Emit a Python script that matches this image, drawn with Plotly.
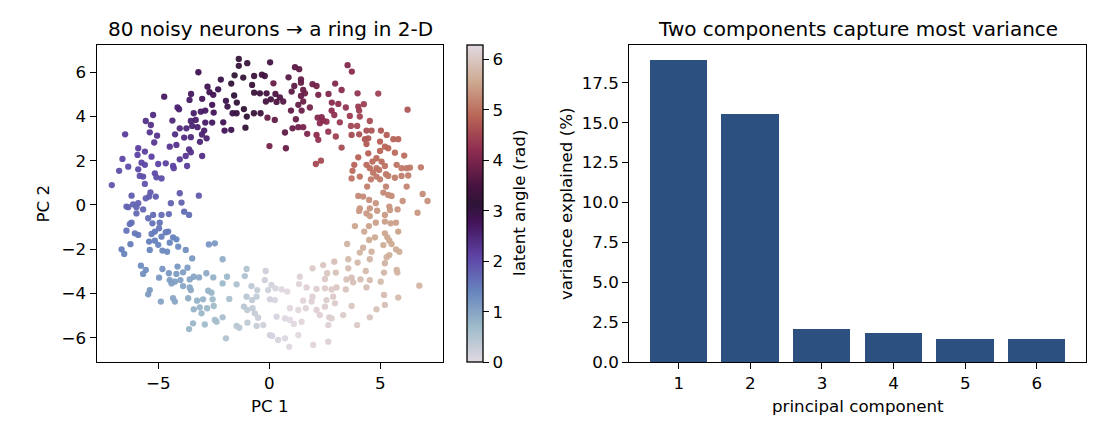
import plotly.graph_objects as go

# ---------------- data ----------------
pc1 = [
 -1.37,-0.99,-1.37,0.04,-3.19,-1.56,-1.17,-0.68,-0.33,-0.20,-2.18,-1.71,-2.78,-2.30,-0.77,-0.68,-0.42,-0.12,0.19,0.28,
 0.07,0.33,-0.15,-0.08,0.25,0.01,-4.73,-3.59,-3.52,-3.02,-2.69,-2.52,-1.58,-1.46,-1.95,-1.88,-2.57,-2.88,-2.50,-4.13,
 -4.06,-3.40,-3.08,-1.65,-1.47,-1.14,-1.01,-0.69,-0.39,-5.23,-5.56,-4.36,-5.33,-3.53,-3.31,-3.47,-3.23,-2.88,-2.57,-2.07,
 -1.07,-2.01,-1.71,-4.03,-3.73,-4.24,-3.83,-3.53,-2.93,-3.03,-2.82,-3.12,-6.49,-5.38,-5.05,-5.18,-4.48,-4.18,-3.61,-5.90,
 -5.60,-5.30,-5.93,-4.03,-3.76,-3.53,-3.02,-6.61,-6.35,-5.75,-5.60,-5.00,-4.66,-4.33,-4.30,-3.70,-5.90,-6.76,-5.83,-5.68,
 -5.15,-5.08,-4.85,-5.60,-7.09,-6.20,-5.35,-5.11,-5.41,-4.03,-3.17,-5.56,-6.43,-6.13,-5.90,-4.43,-3.95,
 1.16,1.35,3.53,3.72,0.87,1.43,1.43,1.13,1.95,2.13,2.97,3.26,3.98,4.91,1.01,1.53,1.61,2.21,2.67,0.63,
 0.48,1.43,1.53,1.31,2.82,3.11,3.45,4.01,4.26,4.05,6.23,0.98,1.46,1.83,1.20,2.18,2.36,2.43,2.28,2.58,
 2.81,2.93,3.18,3.63,3.68,3.96,4.08,4.53,4.38,0.71,1.05,1.31,1.53,1.71,2.13,2.21,2.66,3.00,3.26,3.71,
 4.05,4.31,4.46,4.61,5.03,5.29,5.59,5.81,4.38,4.99,5.21,5.36,4.99,5.66,0.75,4.46,4.01,6.08,2.33,2.10,
 4.83,5.06,4.65,3.83,3.75,4.38,4.53,4.83,4.68,4.95,5.21,5.26,5.74,5.96,6.19,6.34,6.83,3.71,4.08,4.41,
 4.58,4.83,4.99,5.36,5.66,5.96,6.26,6.19,5.26,4.01,4.23,4.50,4.80,5.14,5.36,5.51,5.41,6.01,6.91,7.13,
 4.08,4.53,
 -6.35,-5.98,-5.68,-5.98,-5.23,-4.85,-4.52,-3.83,-3.61,-5.45,-6.20,-6.28,-5.26,-4.93,-4.96,-6.43,-6.05,-5.90,-5.30,-5.15,
 -4.66,-4.55,-4.85,-4.33,-4.18,-6.25,-5.41,-5.15,-5.00,-5.38,-4.81,-4.60,-4.48,-4.10,-3.76,-6.65,-6.53,-2.72,-2.45,-5.78,
 -5.56,-5.68,-4.81,-4.96,-4.52,-4.13,-4.18,-3.88,-3.68,-3.47,-2.10,-3.40,-3.16,-2.83,-2.52,-1.90,-1.02,-0.16,-4.48,-4.25,
 -4.00,-3.58,-4.40,-3.88,-3.58,-5.38,-5.45,-4.33,-4.25,-4.88,-3.65,-3.53,-3.25,-2.98,-2.75,-2.60,-2.55,-2.10,-1.80,-1.47,
 -1.10,-0.80,-0.54,-0.20,-0.05,0.10,0.28,0.03,0.25,-3.40,-3.13,-2.80,-2.50,-3.05,-2.90,-2.45,-2.37,-2.10,-3.61,-3.43,
 -1.95,-1.47,-1.35,-1.14,-0.99,-0.75,-0.65,-0.50,-0.27,-0.98,-0.57,0.03,0.13,0.40,0.33,-1.02,-0.57,-0.77,
 4.05,4.38,4.53,4.86,5.21,5.44,5.78,6.68,3.86,4.28,4.49,4.80,5.21,5.47,5.71,5.81,4.50,4.76,5.21,5.32,
 5.41,5.51,5.14,5.71,5.86,3.51,4.08,4.23,4.61,4.53,5.29,5.21,5.41,5.74,5.77,5.17,3.98,3.56,2.93,2.43,
 1.95,3.56,4.35,3.78,4.11,4.38,4.53,5.02,6.76,2.61,3.00,2.51,3.48,3.71,3.03,3.45,2.81,2.51,2.13,1.68,
 1.34,1.38,1.95,1.91,1.53,1.65,2.13,2.58,2.51,2.88,2.96,2.70,2.81,3.33,3.71,4.53,4.83,5.21,5.81,5.17,
 3.96,2.66,1.98,2.66,2.28,0.81,0.93,1.31,1.46,1.11,0.93,0.71,1.31,0.71,0.90,0.56,
]
pc2 = [
 6.59,6.40,6.28,6.44,5.99,5.85,5.75,5.82,5.88,5.82,5.66,5.48,5.34,5.22,5.42,5.07,5.04,5.04,5.49,5.01,
 4.77,4.65,4.67,3.94,3.84,2.66,4.89,4.74,5.01,4.79,5.09,4.97,4.94,4.62,4.70,4.44,4.52,4.26,4.17,4.40,
 4.32,4.14,4.21,4.14,4.14,4.33,3.99,4.14,4.14,4.06,3.79,3.81,3.61,3.79,3.84,3.57,3.51,3.72,3.72,3.73,
 3.49,3.36,3.39,3.46,3.46,3.19,3.04,3.06,3.36,3.18,3.01,2.85,3.19,3.28,3.13,2.82,2.63,2.71,2.51,2.56,
 2.41,2.18,2.26,2.06,2.21,2.38,2.21,2.08,1.73,1.91,1.81,1.85,1.88,1.76,1.66,1.76,1.61,1.54,1.31,1.28,
 1.43,1.25,1.20,0.95,0.90,0.42,0.57,0.38,0.38,0.53,0.42,0.30,-0.07,0.03,0.08,0.08,0.11,
 6.22,6.13,6.31,6.02,5.76,5.67,5.52,5.37,5.45,5.37,5.48,5.19,5.04,5.03,5.12,5.19,5.04,4.97,5.01,4.67,
 4.86,4.92,4.67,4.52,4.62,4.56,4.40,4.44,4.55,4.26,4.30,4.26,4.26,4.40,3.87,3.94,3.96,3.81,3.69,3.76,
 4.26,4.06,3.73,4.02,3.57,3.57,3.99,3.79,3.36,3.27,3.46,3.51,3.51,3.21,3.16,2.94,3.31,3.09,2.59,3.16,
 3.19,2.97,3.01,3.36,3.36,3.16,2.97,2.97,2.75,2.86,2.63,2.56,2.44,2.36,2.56,2.33,2.15,2.23,2.00,1.85,
 2.11,1.96,1.96,1.81,1.54,1.81,1.66,1.66,1.46,1.58,1.76,1.39,1.81,1.66,1.66,1.69,1.70,1.20,1.28,0.83,
 1.16,1.28,1.16,1.31,1.23,1.31,1.33,0.83,0.83,0.41,0.38,0.23,0.08,0.56,0.45,0.41,-0.07,0.18,0.50,0.18,
 -0.15,-0.15,
 -0.10,-0.10,-0.20,-0.38,-0.45,-0.45,-0.41,-0.30,-0.45,-0.60,-0.80,-0.86,-0.83,-0.80,-1.05,-1.16,-1.28,-1.35,-1.31,-1.20,
 -1.23,-1.20,-1.43,-1.46,-1.55,-1.77,-1.65,-1.61,-1.80,-2.03,-2.06,-2.11,-1.70,-1.88,-2.03,-2.00,-2.21,-1.78,-1.73,-2.74,
 -2.93,-3.11,-2.89,-3.28,-3.08,-2.78,-3.11,-3.04,-2.83,-2.41,-2.45,-3.24,-3.27,-3.08,-3.27,-3.24,-2.89,-2.98,-3.39,-3.46,
 -3.39,-3.36,-3.54,-3.66,-3.72,-3.84,-4.03,-4.21,-4.36,-4.36,-4.21,-3.84,-4.32,-4.26,-3.87,-3.96,-4.26,-3.54,-4.24,-3.58,
 -3.21,-3.66,-3.84,-3.39,-3.84,-3.61,-3.76,-4.26,-4.29,-4.71,-4.62,-4.66,-4.56,-4.89,-5.39,-5.19,-5.27,-5.07,-5.60,-5.34,
 -6.02,-5.46,-5.54,-4.59,-4.74,-4.66,-4.89,-5.09,-5.42,-5.31,-5.46,-5.87,-5.91,-6.09,-5.04,-4.14,-4.14,-4.29,
 -0.27,-0.38,-0.50,-0.26,-0.45,-0.23,-0.20,-0.35,-0.95,-1.20,-0.95,-0.80,-0.75,-0.83,-0.80,-1.20,-1.58,-1.46,-1.28,-1.46,
 -1.61,-1.76,-1.81,-2.00,-2.11,-1.76,-2.15,-1.93,-2.11,-2.45,-2.36,-2.63,-2.26,-2.93,-3.05,-3.05,-2.60,-2.45,-2.56,-2.71,
 -2.86,-2.86,-2.98,-3.49,-3.36,-3.72,-3.39,-3.46,-3.64,-3.08,-3.05,-3.34,-3.36,-3.28,-3.72,-3.81,-3.81,-3.76,-3.79,-3.72,
 -3.57,-3.24,-4.14,-4.36,-4.32,-4.66,-4.74,-4.29,-4.59,-4.14,-4.44,-5.07,-5.12,-4.97,-4.56,-5.07,-4.71,-4.51,-4.18,-4.06,
 -5.42,-5.42,-6.32,-6.17,-4.97,-3.91,-4.66,-4.74,-5.27,-5.37,-5.19,-5.12,-5.87,-6.02,-6.40,-3.81,
]
latent_angle = [
 3.22,3.27,3.21,3.46,2.83,3.15,3.22,3.32,3.39,3.41,2.95,3.11,2.84,2.90,3.30,3.30,3.35,3.42,3.81,3.52,
 3.47,3.56,3.42,3.81,3.74,3.93,2.70,2.67,2.70,2.75,2.84,2.85,3.11,3.11,2.92,2.91,2.80,2.72,2.78,2.56,
 2.56,2.63,2.68,2.93,2.97,3.15,3.17,3.25,3.34,2.41,2.35,2.48,2.35,2.56,2.60,2.54,2.57,2.66,2.71,2.81,
 3.12,2.78,2.86,2.47,2.51,2.39,2.42,2.48,2.60,2.55,2.56,2.50,2.20,2.29,2.30,2.25,2.28,2.32,2.36,2.15,
 2.15,2.13,2.10,2.22,2.28,2.34,2.38,2.05,2.01,2.06,2.05,2.09,2.13,2.13,2.11,2.19,2.02,1.98,1.98,1.98,
 2.02,1.99,1.99,1.91,1.89,1.82,1.86,1.83,1.82,1.87,1.87,1.81,1.73,1.74,1.76,1.76,1.76,
 3.68,3.72,4.09,4.14,3.65,3.77,3.77,3.71,3.88,3.92,4.07,4.15,4.30,4.44,3.70,3.81,3.85,3.97,4.05,3.62,
 3.58,3.81,3.85,3.81,4.13,4.19,4.29,4.38,4.41,4.42,4.69,3.73,3.87,3.94,3.83,4.07,4.11,4.15,4.14,4.21,
 4.18,4.23,4.34,4.38,4.48,4.52,4.47,4.57,4.62,3.72,3.82,3.89,3.97,4.05,4.19,4.26,4.30,4.44,4.60,4.56,
 4.61,4.69,4.71,4.67,4.72,4.79,4.84,4.85,4.76,4.81,4.86,4.88,4.87,4.93,3.81,4.84,4.83,4.98,4.56,4.53,
 4.91,4.97,4.93,4.88,4.95,4.93,4.98,5.00,5.03,5.03,5.01,5.08,5.03,5.06,5.07,5.08,5.09,5.02,5.03,5.15,
 5.09,5.08,5.11,5.10,5.12,5.12,5.13,5.20,5.18,5.24,5.26,5.30,5.33,5.24,5.26,5.27,5.36,5.32,5.27,5.32,
 5.37,5.37,
 1.73,1.73,1.71,1.68,1.66,1.65,1.65,1.67,1.62,1.64,1.62,1.61,1.59,1.59,1.54,1.57,1.54,1.52,1.50,1.52,
 1.49,1.49,1.46,1.42,1.39,1.47,1.45,1.44,1.40,1.38,1.34,1.32,1.38,1.32,1.25,1.45,1.42,1.17,1.13,1.30,
 1.26,1.24,1.20,1.16,1.15,1.15,1.11,1.08,1.09,1.14,0.88,0.98,0.94,0.92,0.83,0.71,0.51,0.23,1.10,1.06,
 1.04,0.99,1.07,0.99,0.94,1.13,1.11,0.97,0.95,1.01,0.89,0.92,0.82,0.79,0.79,0.76,0.71,0.71,0.58,0.56,
 0.50,0.39,0.31,0.23,0.19,0.15,0.10,0.17,0.12,0.80,0.77,0.72,0.68,0.73,0.67,0.62,0.60,0.57,0.75,0.75,
 0.49,0.44,0.41,0.42,0.38,0.33,0.31,0.27,0.22,0.36,0.28,0.17,0.15,0.11,0.11,0.42,0.31,0.36,
 5.40,5.41,5.43,5.39,5.41,5.38,5.37,5.39,5.53,5.56,5.50,5.47,5.46,5.47,5.46,5.50,5.60,5.57,5.53,5.55,
 5.57,5.59,5.61,5.60,5.61,5.70,5.72,5.67,5.68,5.73,5.67,5.70,5.65,5.71,5.72,5.76,5.79,5.80,5.88,5.97,
 6.05,5.85,5.80,5.90,5.86,5.87,5.83,5.80,5.73,5.98,5.93,6.02,5.92,5.88,5.99,5.96,6.03,6.06,6.11,6.15,
 6.19,6.16,6.15,6.16,6.20,6.20,6.15,6.09,6.12,6.04,6.06,6.12,6.12,6.06,5.99,5.97,5.92,5.88,5.82,5.84,
 6.03,6.14,6.21,6.16,6.15,6.26,6.26,6.23,6.23,6.26,6.28,0.04,6.26,0.06,0.03,0.03,
]

components = [1, 2, 3, 4, 5, 6]
variance_pct = [18.92, 15.54, 2.07, 1.82, 1.44, 1.43]

scatter_xticks = [-5, 0, 5]
scatter_yticks = [-6, -4, -2, 0, 2, 4, 6]
angle_ticks = [0, 1, 2, 3, 4, 5, 6]
variance_ticks = [0, 2.5, 5, 7.5, 10, 12.5, 15, 17.5]

# ---------------- styling ----------------
W, H = 1104, 432
FONT = "DejaVu Sans"
LBL = 16.7
TTL = 20
LW = 1.3

def fx(p):
    return p / W

def fy(p):
    return 1 - p / H

twilight = [
    [0.000, "#e2d9e2"], [0.111, "#9ebbc9"], [0.222, "#6785be"], [0.333, "#5e43a5"],
    [0.444, "#421257"], [0.500, "#2f1436"], [0.556, "#471340"], [0.667, "#8e2c50"],
    [0.778, "#ba6657"], [0.889, "#ceac94"], [1.000, "#e2d9e2"],
]

fig = go.Figure()

fig.add_trace(go.Scatter(
    x=pc1, y=pc2, mode="markers", xaxis="x", yaxis="y",
    marker=dict(
        size=6.3, color=latent_angle, colorscale=twilight, cmin=0, cmax=6.283185,
        opacity=0.95, line=dict(width=0),
        colorbar=dict(
            x=fx(466.7), xanchor="left", xpad=0, ypad=0,
            y=(fy(362.3) + fy(45)) / 2, yanchor="middle",
            lenmode="pixels", len=317, thicknessmode="pixels", thickness=15.6,
            outlinewidth=LW, outlinecolor="black",
            ticks="outside", ticklen=6, tickwidth=LW, tickcolor="black",
            tickvals=angle_ticks, tickfont=dict(family=FONT, size=LBL, color="black"),
        ),
    ),
    hoverinfo="skip", showlegend=False,
))

fig.add_trace(go.Bar(
    x=components, y=variance_pct, xaxis="x2", yaxis="y2", width=0.8,
    marker=dict(color="#2c5181", line=dict(width=0)), showlegend=False,
))

axis_common = dict(
    showgrid=False, zeroline=False, showline=True, mirror=True, linecolor="black",
    linewidth=LW, ticks="outside", ticklen=6, tickwidth=LW, tickcolor="black",
    automargin=False,
    tickfont=dict(family=FONT, size=LBL, color="black"),
)

fig.update_layout(
    width=W, height=H, margin=dict(l=0, r=0, t=0, b=0, autoexpand=False),
    paper_bgcolor="white", plot_bgcolor="white",
    font=dict(family=FONT, size=LBL, color="black"),
    bargap=0,
    xaxis=dict(domain=[fx(96.7), fx(443.3)], range=[-7.77, 7.84], tickvals=scatter_xticks,
               anchor="y", **axis_common),
    yaxis=dict(domain=[fy(362.3), fy(45)], range=[-7.10, 7.22], tickvals=scatter_yticks,
               anchor="x", **axis_common),
    xaxis2=dict(domain=[fx(629.3), fx(1086.3)], range=[0.31, 6.69], tickvals=components,
                anchor="y2", **axis_common),
    yaxis2=dict(domain=[fy(362.3), fy(45)], range=[0, 19.86], tickvals=variance_ticks,
                tickformat=".1f", anchor="x2", **axis_common),
)

ann = [
    dict(text="80 noisy neurons → a ring in 2-D", x=fx(270), y=fy(29), font=dict(size=TTL)),
    dict(text="Two components capture most variance", x=fx(857.8), y=fy(29), font=dict(size=TTL)),
    dict(text="PC 1", x=fx(270), y=fy(405.5)),
    dict(text="PC 2", x=fx(43), y=fy(203.6), textangle=-90),
    dict(text="latent angle (rad)", x=fx(519), y=fy(203), textangle=-90),
    dict(text="principal component", x=fx(857.8), y=fy(405.5)),
    dict(text="variance explained (%)", x=fx(565.5), y=fy(203.6), textangle=-90),
]
for a in ann:
    a.setdefault("font", dict(size=LBL))
    a["font"].update(family=FONT, color="black")
    fig.add_annotation(xref="paper", yref="paper", showarrow=False,
                       xanchor="center", yanchor="middle", **a)

fig.write_html("out.html")
